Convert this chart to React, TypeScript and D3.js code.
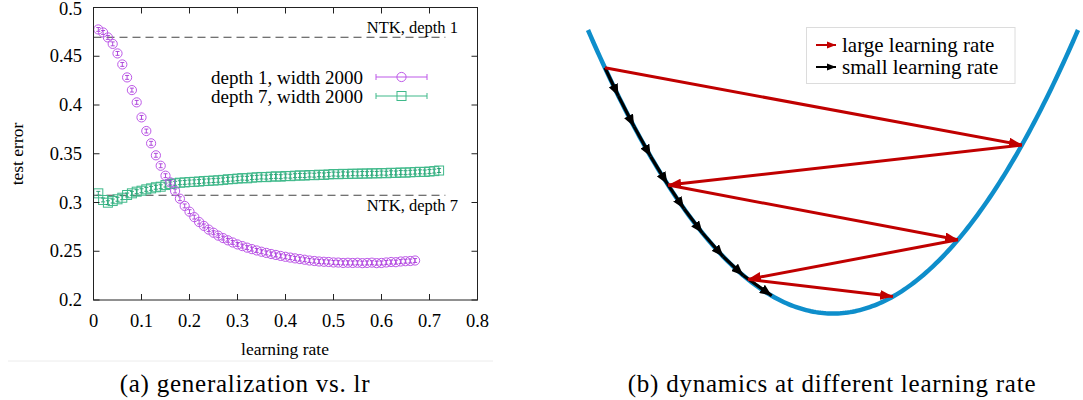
import React from "react";
import * as d3 from "d3";

// test error vs learning rate (lr = 0.01, 0.02, ...)
const depth1Err = [
  0.4775, 0.4744, 0.4693, 0.4627, 0.4529, 0.4416, 0.4283, 0.4153, 0.4027, 0.3873,
  0.3733, 0.3607, 0.3484, 0.3377, 0.3275, 0.3207, 0.3118, 0.3039, 0.2965, 0.2906,
  0.285, 0.28, 0.276, 0.2722, 0.269, 0.266, 0.2635, 0.2612, 0.259, 0.257,
  0.2553, 0.2537, 0.2522, 0.2508, 0.2495, 0.2483, 0.2472, 0.2462, 0.2452, 0.2443,
  0.2435, 0.2427, 0.242, 0.2413, 0.2405, 0.24, 0.2395, 0.2392, 0.239, 0.2385,
  0.2384, 0.238, 0.2382, 0.238, 0.2382, 0.2378, 0.238, 0.2383, 0.2378, 0.238,
  0.2385, 0.239, 0.2388, 0.2395, 0.2398, 0.24, 0.2405,
];
const depth7Err = [
  0.3094, 0.3026, 0.2998, 0.3015, 0.3033, 0.3049, 0.3077, 0.3094, 0.3111, 0.3121,
  0.3135, 0.3145, 0.3156, 0.3162, 0.3179, 0.319, 0.3197, 0.3203, 0.3206, 0.321,
  0.3212, 0.3215, 0.322, 0.3222, 0.3225, 0.3228, 0.3232, 0.3238, 0.324, 0.3245,
  0.325, 0.3248, 0.3255, 0.3258, 0.3262, 0.326, 0.3265, 0.3268, 0.3265, 0.3272,
  0.327, 0.3275, 0.3278, 0.3276, 0.3282, 0.328, 0.3285, 0.3283, 0.3288, 0.3292,
  0.329, 0.3294, 0.3292, 0.3296, 0.3294, 0.3298, 0.3296, 0.33, 0.3298, 0.3302,
  0.33, 0.3305, 0.3303, 0.3308, 0.3306, 0.331, 0.3312, 0.3315, 0.3313, 0.3318,
  0.3322, 0.3328,
];
const lrStep = 0.01;
const errBar = 0.002;
const ntkDepth1 = 0.4695;
const ntkDepth7 = 0.3075;
const ntkEnd = 0.733;
const xTicks = [0, 0.1, 0.2, 0.3, 0.4, 0.5, 0.6, 0.7, 0.8];
const yTicks = [0.2, 0.25, 0.3, 0.35, 0.4, 0.45, 0.5];

// gradient descent iterates on f(w) = w^2
const largeLrSteps = [-0.931, 0.771, -0.673, 0.51, -0.347, 0.245];
const smallLrSteps = [-0.931, -0.876, -0.812, -0.744, -0.676, -0.608, -0.533, -0.448, -0.366, -0.25];

const PURPLE = "#bd58e8";
const GREEN = "#3fb98a";
const RED = "#c00000";
const BLUE = "#0e8ecb";
const SERIF = "Liberation Serif";

export default function App() {
  const x = d3.scaleLinear().domain([0, 0.8]).range([93.5, 477.5]);
  const y = d3.scaleLinear().domain([0.2, 0.5]).range([300, 7.5]);
  const fmt = d3.format("~g");
  const tick = 6;

  const xr = d3.scaleLinear().domain([-1, 1]).range([588, 1078]);
  const yr = d3.scaleLinear().domain([0, 1]).range([313.5, 30]);
  const bowl = d3.line<number>().x((w) => xr(w)).y((w) => yr(w * w));
  const samples = d3.range(-1, 1.0001, 0.01);

  const errMark = (cx: number, v: number, color: string, i: number) => (
    <g key={"e" + i} stroke={color} strokeWidth={0.9}>
      <line x1={cx} x2={cx} y1={y(v - errBar)} y2={y(v + errBar)} />
      <line x1={cx - 2} x2={cx + 2} y1={y(v - errBar)} y2={y(v - errBar)} />
      <line x1={cx - 2} x2={cx + 2} y1={y(v + errBar)} y2={y(v + errBar)} />
    </g>
  );

  const arrows = (steps: number[], color: string, marker: string, sw: number) =>
    steps.slice(1).map((w, i) => (
      <line
        key={marker + i}
        x1={xr(steps[i])}
        y1={yr(steps[i] * steps[i])}
        x2={xr(w)}
        y2={yr(w * w)}
        stroke={color}
        strokeWidth={sw}
        markerEnd={`url(#${marker})`}
      />
    ));

  const legendRows = [
    { label: "depth 1, width 2000", color: PURPLE, shape: "circle" },
    { label: "depth 7, width 2000", color: GREEN, shape: "square" },
  ];

  return (
    <svg width={1083} height={400} fontFamily={SERIF} style={{ position: "absolute", left: 0, top: 0 }}>
      <defs>
        <marker id="redHead" markerUnits="userSpaceOnUse" markerWidth={14} markerHeight={10} refX={13} refY={5} orient="auto">
          <path d="M0,0 L13,5 L0,10 Z" fill={RED} />
        </marker>
        <marker id="blackHead" markerUnits="userSpaceOnUse" markerWidth={13} markerHeight={10} refX={12} refY={5} orient="auto">
          <path d="M0,0 L12,5 L0,10 Z" fill="#000" />
        </marker>
        <marker id="redHeadSmall" markerUnits="userSpaceOnUse" markerWidth={10} markerHeight={8} refX={9} refY={4} orient="auto">
          <path d="M0,0.5 L9,4 L0,7.5 Z" fill={RED} />
        </marker>
        <marker id="blackHeadSmall" markerUnits="userSpaceOnUse" markerWidth={10} markerHeight={8} refX={9} refY={4} orient="auto">
          <path d="M0,0.5 L9,4 L0,7.5 Z" fill="#000" />
        </marker>
      </defs>
      <rect width={1083} height={400} fill="#fff" />

      {/* (a) */}
      <g fontFamily={SERIF}>
        {/* dashed NTK baselines */}
        {[ntkDepth1, ntkDepth7].map((v) => (
          <line key={v} x1={x(0)} x2={x(ntkEnd)} y1={y(v)} y2={y(v)} stroke="#444" strokeWidth={1.1} strokeDasharray="8,5" />
        ))}
        <text x={458} y={y(ntkDepth1) - 10} textAnchor="end" fontFamily={SERIF} fontSize={16.5} dominantBaseline="central">NTK, depth 1</text>
        <text x={458} y={y(ntkDepth7) + 10} textAnchor="end" fontFamily={SERIF} fontSize={16.5} dominantBaseline="central">NTK, depth 7</text>

        {/* depth 7 squares */}
        {depth7Err.map((v, i) => {
          const cx = x((i + 1) * lrStep);
          return (
            <g key={"g" + i}>
              <rect x={cx - 4.5} y={y(v) - 4.5} width={9} height={9} fill="none" stroke={GREEN} strokeWidth={1} />
              {errMark(cx, v, "#1a966a", i)}
            </g>
          );
        })}
        {/* depth 1 circles */}
        {depth1Err.map((v, i) => {
          const cx = x((i + 1) * lrStep);
          return (
            <g key={"p" + i}>
              <circle cx={cx} cy={y(v)} r={4.6} fill="none" stroke={PURPLE} strokeWidth={1} />
              {errMark(cx, v, "#a83ad8", i)}
            </g>
          );
        })}

        {/* frame and ticks */}
        <rect x={x(0)} y={y(0.5)} width={x(0.8) - x(0)} height={y(0.2) - y(0.5)} fill="none" stroke="#222" strokeWidth={1} />
        {xTicks.map((t) => (
          <g key={"xt" + t}>
            <line x1={x(t)} x2={x(t)} y1={y(0.2)} y2={y(0.2) - tick} stroke="#222" />
            <line x1={x(t)} x2={x(t)} y1={y(0.5)} y2={y(0.5) + tick} stroke="#222" />
            <text x={x(t)} y={321} textAnchor="middle" dominantBaseline="central" fontFamily={SERIF} fontSize={18.5}>{fmt(t)}</text>
          </g>
        ))}
        {yTicks.map((t) => (
          <g key={"yt" + t}>
            <line x1={x(0)} x2={x(0) + tick} y1={y(t)} y2={y(t)} stroke="#222" />
            <line x1={x(0.8)} x2={x(0.8) - tick} y1={y(t)} y2={y(t)} stroke="#222" />
            <text x={82} y={Math.max(y(t), 9)} textAnchor="end" dominantBaseline="central" fontFamily={SERIF} fontSize={18.5}>{fmt(t)}</text>
          </g>
        ))}
        <text x={285} y={349} textAnchor="middle" dominantBaseline="central" fontFamily={SERIF} fontSize={17.5}>learning rate</text>
        <text transform="translate(17,154) rotate(-90)" textAnchor="middle" dominantBaseline="central" fontFamily={SERIF} fontSize={17.5}>test error</text>

        {/* legend */}
        {legendRows.map((r, i) => {
          const ly = 77 + i * 19;
          return (
            <g key={r.label}>
              <text x={363} y={ly} textAnchor="end" dominantBaseline="central" fontFamily={SERIF} fontSize={19}>{r.label}</text>
              <g stroke={r.color} strokeWidth={1} fill="none">
                <line x1={376} x2={427} y1={ly} y2={ly} />
                <line x1={376} x2={376} y1={ly - 3} y2={ly + 3} />
                <line x1={427} x2={427} y1={ly - 3} y2={ly + 3} />
                {r.shape === "circle" ? (
                  <circle cx={401.5} cy={ly} r={4.6} />
                ) : (
                  <rect x={397} y={ly - 4.5} width={9} height={9} />
                )}
              </g>
            </g>
          );
        })}
        <line x1={8} x2={493} y1={361} y2={361} stroke="#ececec" strokeWidth={1} />
        <text x={245} y={383} textAnchor="middle" dominantBaseline="central" fontFamily={SERIF} fontSize={25} letterSpacing={0.75}>(a) generalization vs. lr</text>
      </g>

      {/* (b) */}
      <g fontFamily={SERIF}>
        <path d={bowl(samples) || ""} fill="none" stroke={BLUE} strokeWidth={4.5} />
        {arrows(smallLrSteps, "#000", "blackHead", 3.2)}
        {arrows(largeLrSteps, RED, "redHead", 3)}

        <rect x={806.5} y={27.5} width={208.5} height={56} fill="#fff" stroke="#dcdcdc" strokeWidth={1} />
        <line x1={816} x2={836} y1={45} y2={45} stroke={RED} strokeWidth={2} markerEnd="url(#redHeadSmall)" />
        <line x1={816} x2={836} y1={67} y2={67} stroke="#000" strokeWidth={2} markerEnd="url(#blackHeadSmall)" />
        <text x={842} y={45} dominantBaseline="central" fontFamily={SERIF} fontSize={21}>large learning rate</text>
        <text x={842} y={67} dominantBaseline="central" fontFamily={SERIF} fontSize={21}>small learning rate</text>

        <text x={832} y={383} textAnchor="middle" dominantBaseline="central" fontFamily={SERIF} fontSize={25} letterSpacing={0.75}>(b) dynamics at different learning rate</text>
      </g>
    </svg>
  );
}
